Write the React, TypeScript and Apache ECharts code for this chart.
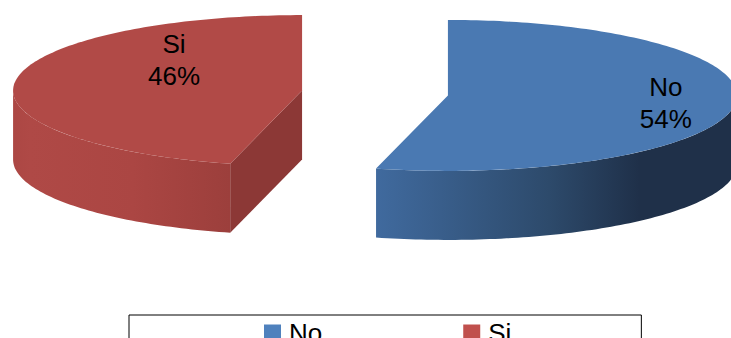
import React, { useEffect, useRef } from 'react';
import * as echarts from 'echarts';

// Survey answers
const categories = ['No', 'Si'];
const shares = [54, 46];

// Colours: legend swatches, lit top faces, outer walls (left→right shading), cut faces
const legendColors = ['#4F81BD', '#C0504D'];
const topColors = ['#4A79B2', '#B14A47'];
const wallStops: [number, string][][] = [
  [[0, '#406A9E'], [0.48, '#2D4A6B'], [0.73, '#1F3049'], [1, '#1F3049']],
  [[0, '#AC4744'], [0.08, '#AF4946'], [0.55, '#AB4643'], [1, '#9C3F3C']],
];
const cutColors = ['#2A4468', '#8C3836'];

// Pie geometry (oblique projection of a flat cylinder)
const W = 731;
const H = 338;
const CX = 375;
const CY = 93;
const RX = 289;
const RY = 75.5;
const DEPTH = 69;
const EXPLODE = 73.5;
// label anchors in units of (RX, RY) from each slice centre
const labelOffsets = [
  [0.754, 0.107],
  [-0.443, -0.4],
];
const FONT = '"Liberation Sans", Arial, Helvetica, sans-serif';

const total = shares.reduce((s, v) => s + v, 0);
const starts = shares.map((_, i) => shares.slice(0, i).reduce((s, v) => s + v, 0));

const TAU = Math.PI * 2;

function rim(cx: number, cy: number, a: number): number[] {
  return [cx + RX * Math.sin(a), cy - RY * Math.cos(a)];
}

function arc(cx: number, cy: number, from: number, to: number): number[][] {
  const n = Math.max(2, Math.ceil(Math.abs(to - from) / 0.02));
  const pts: number[][] = [];
  for (let k = 0; k <= n; k++) {
    pts.push(rim(cx, cy, from + ((to - from) * k) / n));
  }
  return pts;
}

function sliceRenderer(i: number) {
  return (_params: any, api: any) => {
    const value = api.value(0) as number;
    const before = api.value(1) as number;
    const a0 = (before / total) * TAU;
    const a1 = ((before + value) / total) * TAU;
    const mid = (a0 + a1) / 2;
    const cx = CX + EXPLODE * Math.sin(mid);
    const cy = CY - EXPLODE * (RY / RX) * Math.cos(mid);
    const children: any[] = [];

    // outer wall, visible on the front half only
    const w0 = Math.max(a0, Math.PI / 2);
    const w1 = Math.min(a1, (3 * Math.PI) / 2);
    if (w1 > w0) {
      const top = arc(cx, cy, w0, w1);
      const bottom = arc(cx, cy + DEPTH, w1, w0);
      children.push({
        type: 'polygon',
        shape: { points: [...top, ...bottom] },
        style: {
          fill: new echarts.graphic.LinearGradient(
            0, 0, 1, 0,
            wallStops[i].map(([offset, color]) => ({ offset, color }))
          ),
        },
      });
    }

    // radial cut faces that turn towards the viewer
    const cutFace = (a: number) => {
      const p = rim(cx, cy, a);
      return {
        type: 'polygon',
        shape: { points: [[cx, cy], p, [p[0], p[1] + DEPTH], [cx, cy + DEPTH]] },
        style: { fill: cutColors[i] },
      };
    };
    if (Math.sin(a0) < -1e-6) children.push(cutFace(a0));
    if (Math.sin(a1) > 1e-6) children.push(cutFace(a1));

    // top face
    children.push({
      type: 'polygon',
      shape: { points: [[cx, cy], ...arc(cx, cy, a0, a1)] },
      style: { fill: topColors[i] },
    });

    // data label
    const pct = Math.round((value / total) * 100);
    children.push({
      type: 'text',
      x: cx + labelOffsets[i][0] * RX,
      y: cy + labelOffsets[i][1] * RY,
      style: {
        text: `${categories[i]}\n${pct}%`,
        fill: '#000',
        fontSize: 26,
        fontFamily: FONT,
        lineHeight: 32,
        align: 'center',
        verticalAlign: 'middle',
      },
    });

    return { type: 'group', children };
  };
}

export default function App() {
  const ref = useRef<HTMLDivElement>(null);

  useEffect(() => {
    if (!ref.current) return;
    const chart = echarts.init(ref.current, undefined, { renderer: 'svg' });
    chart.setOption({
      animation: false,
      backgroundColor: '#fff',
      legend: {
        data: categories,
        left: 129,
        top: 315,
        orient: 'horizontal',
        icon: 'rect',
        itemWidth: 17,
        itemHeight: 17,
        itemGap: 141,
        padding: [5, 130, 20, 135],
        borderColor: '#000',
        borderWidth: 1,
        selectedMode: false,
        textStyle: {
          fontSize: 26,
          fontFamily: FONT,
          color: '#000',
          padding: [0, 0, 0, 3],
        },
      },
      series: categories.map((name, i) => ({
        name,
        type: 'custom',
        coordinateSystem: 'none',
        itemStyle: { color: legendColors[i] },
        data: [[shares[i], starts[i]]],
        renderItem: sliceRenderer(i),
      })),
    });
    return () => chart.dispose();
  }, []);

  return (
    <div
      ref={ref}
      style={{ position: 'fixed', left: 0, top: 0, width: W, height: H }}
    />
  );
}
